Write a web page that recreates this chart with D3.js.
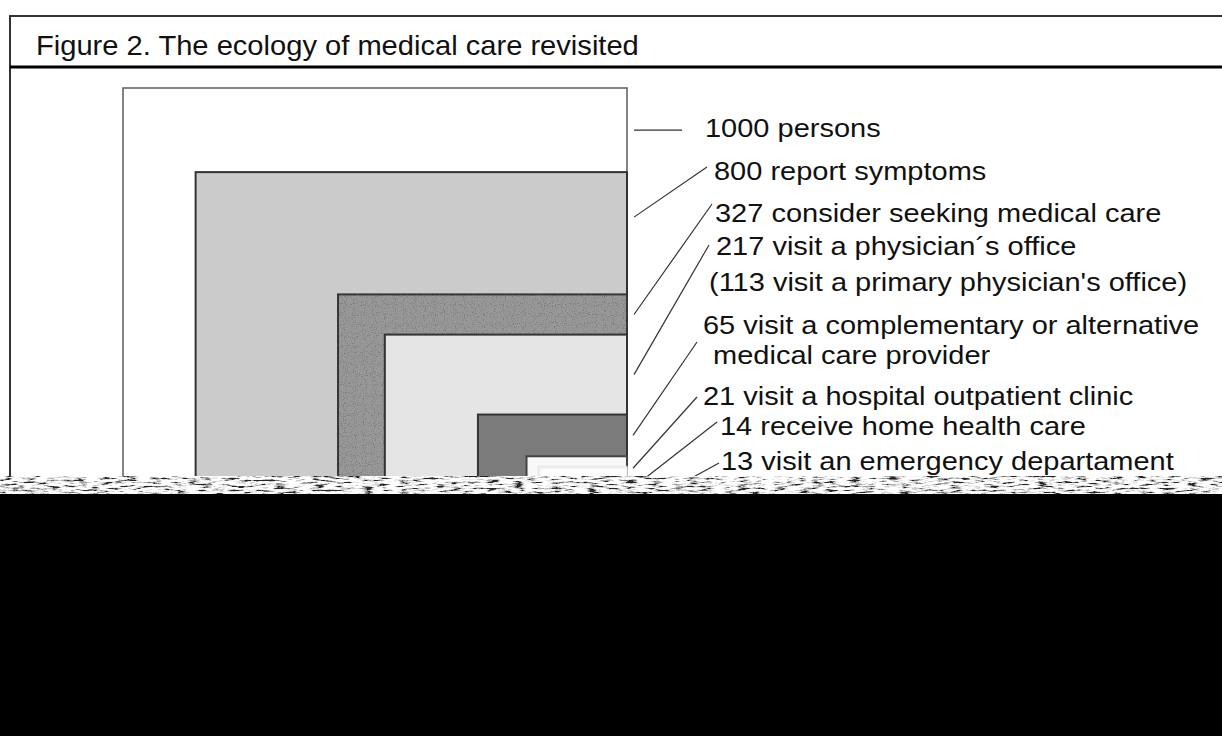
<!DOCTYPE html>
<html><head><meta charset="utf-8">
<script src="https://cdn.jsdelivr.net/npm/d3@7"></script>
<style>html,body{margin:0;padding:0;background:#fff;} svg{display:block;}</style>
</head><body>
<svg id="chart" width="1222" height="736"></svg>
<script>
// ---------------- data ----------------
const counts = [1000, 800, 327, 217, 65, 21, 14, 13];
const labelLines = [
  ["1000 persons"],
  ["800 report symptoms"],
  ["327 consider seeking medical care"],
  ["217 visit a physician\u00B4s office", "(113 visit a primary physician's office)"],
  ["65 visit a complementary or alternative", " medical care provider"],
  ["21 visit a hospital outpatient clinic"],
  ["14 receive home health care"],
  ["13 visit an emergency departament"]
];
const titleText = "Figure 2. The ecology of medical care revisited";

// ---------------- styles / layout ----------------
const W = 1222, H = 736;
const boxFills   = ["#ffffff", "#cbcbcb", "#989898", "#e5e5e5", "#7b7b7b", "#f8f8f8", "#fbfbfb", "#fdfdfd"];
const boxStrokes = ["#666666", "#333333", "#333333", "#333333", "#333333", "#444444", "#e2e2e2", "#e8e8e8"];
const frame = { left: 10, top: 16, sep: 67 };
const plot = { left: 123, right: 627, top: 88, bottom: 620 };
const glitch = { top: 476, bottom: 494 };
// annotation placement: text line origins, label-side end of the leader, box-side x of the leader
const callouts = [
  { lines: [[705, 137]],             lx: 682, ly: null, bx: 634 },
  { lines: [[714, 180]],             lx: 707, ly: 167,  bx: 634 },
  { lines: [[715, 222]],             lx: 712, ly: 204,  bx: 634 },
  { lines: [[716, 255], [709, 291]], lx: 709, ly: 245,  bx: 634 },
  { lines: [[703, 334], [705, 364]], lx: 697, ly: 342,  bx: 633 },
  { lines: [[703, 405]],             lx: 697, ly: 397,  bx: 633 },
  { lines: [[720, 435]],             lx: 717, ly: 422,  bx: 645 },
  { lines: [[721, 470]],             lx: 719, ly: 463,  bx: 688 }
];

const svg = d3.select("#chart");
const defs = svg.append("defs");

// glitch texture filter (decorative)
const f = defs.append("filter").attr("id", "glitch")
  .attr("x", 0).attr("y", 0).attr("width", 1).attr("height", 1)
  .attr("color-interpolation-filters", "sRGB");
f.append("feTurbulence").attr("type", "fractalNoise")
  .attr("baseFrequency", "0.08 0.5").attr("numOctaves", 3).attr("seed", 11);
f.append("feColorMatrix").attr("type", "matrix")
  .attr("values", "2.4 0 0 0 -0.6  2.4 0 0 0 -0.6  2.4 0 0 0 -0.6  0 0 0 0 1");
const ct = f.append("feComponentTransfer");
["feFuncR", "feFuncG", "feFuncB"].forEach(n =>
  ct.append(n).attr("type", "discrete").attr("tableValues", "0.15 0.45 0.65 0.8 0.92 1 1 1"));

// stipple filter for the textured box
const s = defs.append("filter").attr("id", "stipple")
  .attr("color-interpolation-filters", "sRGB");
s.append("feTurbulence").attr("type", "fractalNoise").attr("baseFrequency", "0.9")
  .attr("numOctaves", 1).attr("seed", 4).attr("result", "n");
s.append("feColorMatrix").attr("in", "n").attr("type", "matrix")
  .attr("values", "0 0 0 0 0.35  0 0 0 0 0.35  0 0 0 0 0.35  -2.2 0 0 0 1.05").attr("result", "dots");
s.append("feComposite").attr("in", "dots").attr("in2", "SourceAlpha").attr("operator", "in").attr("result", "dc");
const sm = s.append("feMerge");
sm.append("feMergeNode").attr("in", "SourceGraphic");
sm.append("feMergeNode").attr("in", "dc");

// background
svg.append("rect").attr("width", W).attr("height", H).attr("fill", "#fff");

// scales for the nested boxes (sqrt of group size)
const xLeft = d3.scaleSqrt().domain([0, 1000]).range([plot.right - 36.5, plot.right - 478]);
const yTop  = d3.scaleSqrt().domain([0, 1000]).range([511.2, 132.1]);

const boxes = counts.map((c, i) => ({
  c, i,
  x: i === 0 ? plot.left : xLeft(c),
  y: i === 0 ? plot.top : yTop(c)
}));
boxes.forEach((b, i) => {
  const next = boxes[i + 1];
  const band = next ? next.y - b.y : 0;
  b.anchorY = b.y + Math.max(12, Math.min(45, band / 2));
});

svg.append("g").selectAll("rect").data(boxes).join("rect")
  .attr("x", d => d.x).attr("y", d => d.y)
  .attr("width", d => plot.right - d.x).attr("height", d => plot.bottom - d.y)
  .attr("fill", (d, i) => boxFills[i])
  .attr("stroke", (d, i) => boxStrokes[i])
  .attr("stroke-width", (d, i) => i === 0 ? 1.6 : (i > 5 ? 1 : 2))
  .attr("filter", (d, i) => i === 2 ? "url(#stipple)" : null);

// leaders
svg.append("g").selectAll("line").data(boxes).join("line")
  .attr("x1", (d, i) => callouts[i].bx).attr("y1", d => d.anchorY)
  .attr("x2", (d, i) => callouts[i].lx)
  .attr("y2", (d, i) => callouts[i].ly === null ? d.anchorY : callouts[i].ly)
  .attr("stroke", "#333").attr("stroke-width", 1.2);

// labels
const lab = svg.append("g")
  .attr("font-family", "'Liberation Sans', Arial, sans-serif")
  .attr("font-size", 25).attr("fill", "#111");
labelLines.forEach((lines, i) => {
  lines.forEach((t, j) => {
    const [x, y] = callouts[i].lines[j];
    lab.append("text").attr("transform", `translate(${x},${y}) scale(1.16,1)`)
      .attr("xml:space", "preserve").style("white-space", "pre").text(t);
  });
});

// frame + title
svg.append("line").attr("x1", frame.left).attr("x2", W).attr("y1", frame.top).attr("y2", frame.top)
  .attr("stroke", "#333").attr("stroke-width", 2);
svg.append("line").attr("x1", frame.left).attr("x2", frame.left).attr("y1", frame.top - 1).attr("y2", glitch.bottom)
  .attr("stroke", "#333").attr("stroke-width", 2);
svg.append("line").attr("x1", frame.left).attr("x2", W).attr("y1", frame.sep).attr("y2", frame.sep)
  .attr("stroke", "#000").attr("stroke-width", 3);
svg.append("text").attr("transform", "translate(36,55) scale(1.04,1)")
  .attr("font-family", "'Liberation Sans', Arial, sans-serif")
  .attr("font-size", 28).attr("fill", "#111").text(titleText);

// corrupted lower part of the image
svg.append("rect").attr("x", 0).attr("y", glitch.top).attr("width", W)
  .attr("height", glitch.bottom - glitch.top).attr("fill", "#888").attr("filter", "url(#glitch)");
svg.append("rect").attr("x", 0).attr("y", glitch.bottom).attr("width", W)
  .attr("height", H - glitch.bottom).attr("fill", "#000");
</script>
</body></html>
